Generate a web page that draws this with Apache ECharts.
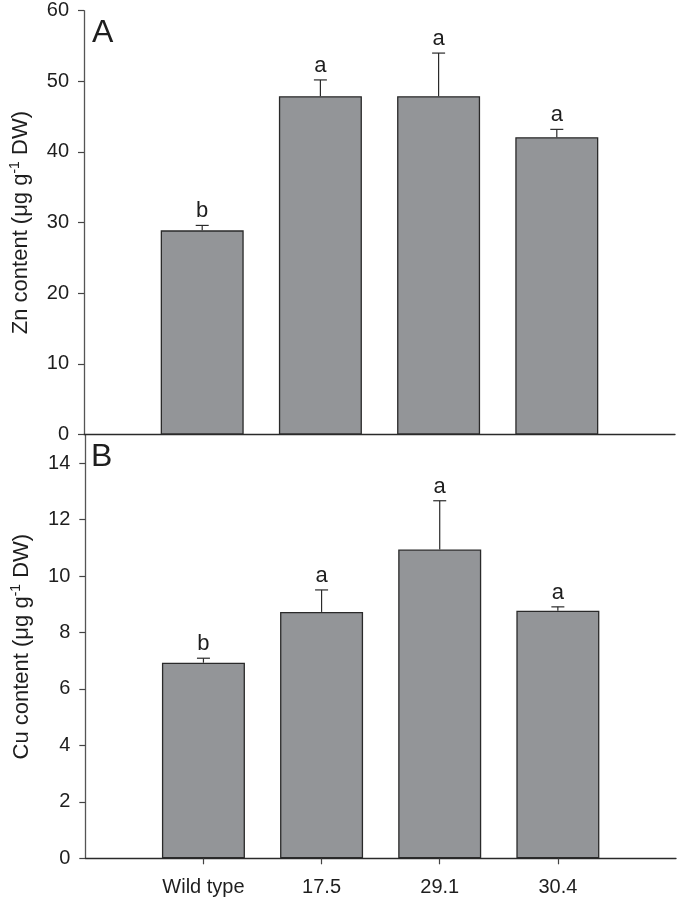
<!DOCTYPE html>
<html>
<head>
<meta charset="utf-8">
<script src="https://cdn.jsdelivr.net/npm/echarts@6/dist/echarts.min.js"></script>
<style>
html,body{margin:0;padding:0;background:#fff;}
#chart{width:679px;height:900px;}
</style>
</head>
<body>
<div id="chart"></div>
<script>
// ---- data ----
var categories = ['Wild type', '17.5', '29.1', '30.4'];
var znValues = [28.9, 47.9, 47.9, 42.1];
var znErrors = [0.7, 2.3, 6.1, 1.1];
var znLetters = ['b', 'a', 'a', 'a'];
var cuValues = [6.93, 8.73, 10.94, 8.77];
var cuErrors = [0.16, 0.78, 1.73, 0.14];
var cuLetters = ['b', 'a', 'a', 'a'];
var znTicks = [0, 10, 20, 30, 40, 50, 60];
var cuTicks = [0, 2, 4, 6, 8, 10, 12, 14];

var FONT = '"Liberation Sans", Arial, sans-serif';
var BAR_COLOR = '#939598';
var LINE_COLOR = '#2a2a2a';
var TEXT_COLOR = '#1e1e1e';

function pos(i) { return i + 1; }

function barData(vals) {
  return vals.map(function (v, i) { return [pos(i), v]; });
}
function errData(vals, errs, letters) {
  return vals.map(function (v, i) { return [pos(i), v, errs[i], letters[i]]; });
}

function renderErr(params, api) {
  var x = api.value(0), v = api.value(1), e = api.value(2);
  var letter = api.value(3);
  var p0 = api.coord([x, v]);
  var p1 = api.coord([x, v + e]);
  var half = 6.5;
  return {
    type: 'group',
    children: [
      { type: 'line', shape: { x1: p0[0], y1: p0[1], x2: p1[0], y2: p1[1] },
        style: { stroke: LINE_COLOR, lineWidth: 1.2 } },
      { type: 'line', shape: { x1: p1[0] - half, y1: p1[1], x2: p1[0] + half, y2: p1[1] },
        style: { stroke: LINE_COLOR, lineWidth: 1.2 } },
      { type: 'text', x: p1[0], y: p1[1] - 3,
        style: { text: letter, textAlign: 'center', textVerticalAlign: 'bottom',
                 font: '22px ' + FONT, fill: TEXT_COLOR } }
    ]
  };
}

function xAxisCfg(gridIndex, showLabels) {
  return {
    type: 'value', gridIndex: gridIndex, min: 0, max: 5,
    axisLine: { show: true, lineStyle: { color: LINE_COLOR, width: 1.3 } },
    axisTick: { show: showLabels, length: 6, inside: false, customValues: [1, 2, 3, 4],
                lineStyle: { color: '#444', width: 1.2 } },
    axisLabel: { show: showLabels, customValues: [1, 2, 3, 4], margin: 19,
                 fontFamily: FONT, fontSize: 20, color: TEXT_COLOR,
                 formatter: function (v) { return categories[Math.round(v) - 1] || ''; } },
    splitLine: { show: false }
  };
}

function yAxisCfg(gridIndex, max, ticks, label) {
  return {
    type: 'value', gridIndex: gridIndex, min: 0, max: max,
    axisLine: { show: true, lineStyle: { color: '#555', width: 1.3 } },
    axisTick: { show: true, length: 6, customValues: ticks, lineStyle: { color: '#444', width: 1.2 } },
    axisLabel: { customValues: ticks, margin: 15, fontFamily: FONT, fontSize: 20, color: TEXT_COLOR },
    splitLine: { show: false },
    name: label,
    nameLocation: 'middle',
    nameRotate: 90,
    nameGap: 51,
    nameTextStyle: {
      fontFamily: FONT, fontSize: 22, color: TEXT_COLOR,
      rich: {
        n: { fontFamily: FONT, fontSize: 22, color: TEXT_COLOR },
        s: { fontFamily: FONT, fontSize: 14, color: TEXT_COLOR, verticalAlign: 'top', padding: [0, 0, 11, 0] }
      }
    }
  };
}

var chart = echarts.init(document.getElementById('chart'), null, { renderer: 'canvas' });
chart.setOption({
  animation: false,
  backgroundColor: '#fff',
  grid: [
    { left: 83.3, right: 4, top: 10.7, height: 423.8 },
    { left: 85.3, right: 3, top: 435, height: 423.3 }
  ],
  xAxis: [xAxisCfg(0, false), xAxisCfg(1, true)],
  yAxis: [
    yAxisCfg(0, 60, znTicks, '{n|Zn content (\u03bcg g}{s|-1}{n| DW)}'),
    yAxisCfg(1, 15, cuTicks, '{n|Cu content (\u03bcg g}{s|-1}{n| DW)}')
  ],
  graphic: [
    { type: 'text', left: 92, top: 17, style: { text: 'A', font: '32px ' + FONT, fill: TEXT_COLOR } },
    { type: 'text', left: 91, top: 441, style: { text: 'B', font: '32px ' + FONT, fill: TEXT_COLOR } }
  ],
  series: [
    { type: 'bar', xAxisIndex: 0, yAxisIndex: 0, data: barData(znValues), barWidth: 83,
      itemStyle: { color: BAR_COLOR, borderColor: LINE_COLOR, borderWidth: 1.3 } },
    { type: 'custom', xAxisIndex: 0, yAxisIndex: 0, data: errData(znValues, znErrors, znLetters),
      renderItem: renderErr, z: 5 },
    { type: 'bar', xAxisIndex: 1, yAxisIndex: 1, data: barData(cuValues), barWidth: 83,
      itemStyle: { color: BAR_COLOR, borderColor: LINE_COLOR, borderWidth: 1.3 } },
    { type: 'custom', xAxisIndex: 1, yAxisIndex: 1, data: errData(cuValues, cuErrors, cuLetters),
      renderItem: renderErr, z: 5 }
  ]
});
</script>
</body>
</html>
